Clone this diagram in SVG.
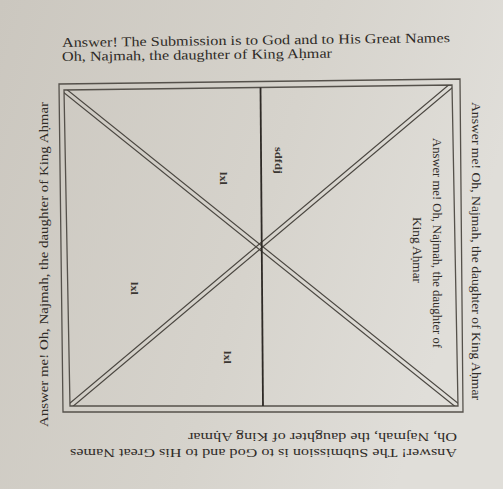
<svg xmlns="http://www.w3.org/2000/svg" width="503" height="489" viewBox="0 0 503 489">
  <defs>
    <linearGradient id="paper" x1="0" y1="0" x2="1" y2="0.3">
      <stop offset="0" stop-color="#cbc7bf"/>
      <stop offset="0.6" stop-color="#d6d3cc"/>
      <stop offset="1" stop-color="#e0ded9"/>
    </linearGradient>
    <clipPath id="innerClip">
      <polygon points="64,90 452,85 458,406 70,406"/>
    </clipPath>
    <style>
      .frame { fill: none; stroke: #55514b; stroke-width: 1.3; }
      .dline { stroke: #4a4640; stroke-width: 1.2; fill: none; }
      .vline { stroke: #2e2a26; stroke-width: 1.8; fill: none; }
      .txt { font-family: "Liberation Serif", "Times New Roman", serif; font-size: 13.5px; fill: #2f2b27; }
      .small { font-family: "Liberation Serif", "Times New Roman", serif; font-size: 11px; font-weight: bold; fill: #3a3632; }
    </style>
  </defs>

  <rect x="0" y="0" width="503" height="489" fill="url(#paper)"/>

  <g id="frame">
    <polygon class="frame" points="59,84 460,79 463,412 63,412"/>
    <polygon class="frame" points="64,90 452,85 458,406 70,406"/>
  </g>

  <g id="connectors" clip-path="url(#innerClip)">
    <line class="dline" x1="50.9" y1="82.3" x2="468.3" y2="417.1"/>
    <line class="dline" x1="53.7" y1="78.9" x2="471.1" y2="413.7"/>
    <line class="dline" x1="59.9" y1="417.3" x2="464.9" y2="77.1"/>
    <line class="dline" x1="57.1" y1="413.9" x2="462.1" y2="73.7"/>
    <line class="vline" x1="260.5" y1="86" x2="263" y2="407"/>
  </g>

  <g id="top-text">
    <text class="txt" x="62" y="47" textLength="388" lengthAdjust="spacingAndGlyphs" transform="rotate(-0.7 62 47)">Answer! The Submission is to God and to His Great Names</text>
    <text class="txt" x="62" y="61" textLength="270" lengthAdjust="spacingAndGlyphs" transform="rotate(-0.7 62 61)">Oh, Najmah, the daughter of King Aḥmar</text>
  </g>

  <g id="bottom-text">
    <text class="txt" transform="translate(457 433) rotate(180)" x="0" y="0" textLength="269" lengthAdjust="spacingAndGlyphs">Oh, Najmah, the daughter of King Aḥmar</text>
    <text class="txt" transform="translate(457 449) rotate(180)" x="0" y="0" textLength="387" lengthAdjust="spacingAndGlyphs">Answer! The Submission is to God and to His Great Names</text>
  </g>

  <g id="left-text">
    <text class="txt" transform="translate(48 427) rotate(-90)" x="0" y="0" textLength="325" lengthAdjust="spacingAndGlyphs">Answer me! Oh, Najmah, the daughter of King Aḥmar</text>
  </g>

  <g id="right-text">
    <text class="txt" transform="translate(472 102) rotate(90)" x="0" y="0" textLength="298" lengthAdjust="spacingAndGlyphs">Answer me! Oh, Najmah, the daughter of King Aḥmar</text>
  </g>

  <g id="inner-right-text">
    <text class="txt" transform="translate(433 138) rotate(90)" x="0" y="0" textLength="210" lengthAdjust="spacingAndGlyphs">Answer me! Oh, Najmah, the daughter of</text>
    <text class="txt" transform="translate(413 217) rotate(90)" x="0" y="0" textLength="66" lengthAdjust="spacingAndGlyphs">King Aḥmar</text>
  </g>

  <g id="labels">
    <text class="small" transform="translate(275 147) rotate(90)" x="0" y="0" textLength="27" lengthAdjust="spacingAndGlyphs">sdfdj</text>
    <text class="small" transform="translate(220 172) rotate(90)" x="0" y="0" textLength="13" lengthAdjust="spacingAndGlyphs">lxl</text>
    <text class="small" transform="translate(131 282) rotate(90)" x="0" y="0" textLength="13" lengthAdjust="spacingAndGlyphs">lxl</text>
    <text class="small" transform="translate(224 351) rotate(90)" x="0" y="0" textLength="13" lengthAdjust="spacingAndGlyphs">lxl</text>
  </g>
</svg>
